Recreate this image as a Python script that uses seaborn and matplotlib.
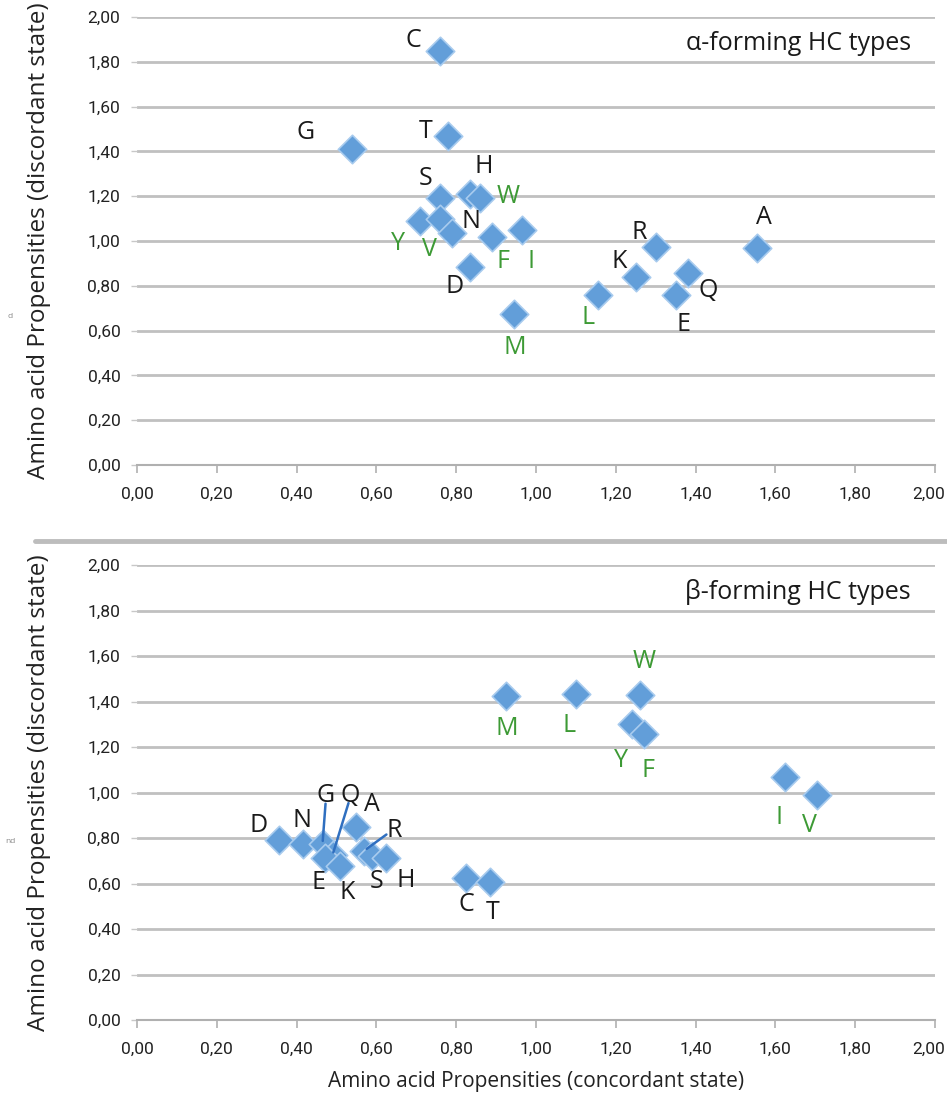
import matplotlib
matplotlib.use("Agg")
import matplotlib.pyplot as plt
import seaborn as sns
import pandas as pd
from matplotlib.lines import Line2D
from matplotlib.ticker import FuncFormatter, MultipleLocator
from matplotlib import font_manager

# ---------------- data ----------------
alpha_aa = ["C", "T", "G", "S", "H", "W", "Y", "V", "N", "F", "I", "D", "M",
            "L", "K", "R", "E", "Q", "A"]
alpha_conc = [0.76, 0.78, 0.54, 0.76, 0.835, 0.86, 0.71, 0.76, 0.79, 0.89, 0.965,
              0.835, 0.945, 1.155, 1.25, 1.30, 1.35, 1.38, 1.555]
alpha_disc = [1.85, 1.47, 1.41, 1.19, 1.21, 1.19, 1.09, 1.10, 1.035, 1.02, 1.05,
              0.885, 0.675, 0.76, 0.84, 0.975, 0.76, 0.855, 0.97]

beta_aa = ["D", "N", "G", "Q", "E", "K", "A", "R", "S", "H", "C", "T",
           "M", "L", "W", "Y", "F", "I", "V"]
beta_conc = [0.355, 0.415, 0.465, 0.49, 0.47, 0.51, 0.55, 0.57, 0.59, 0.625,
             0.825, 0.885, 0.925, 1.10, 1.26, 1.24, 1.27, 1.625, 1.705]
beta_disc = [0.79, 0.775, 0.775, 0.725, 0.71, 0.675, 0.85, 0.745, 0.72, 0.71,
             0.625, 0.605, 1.425, 1.435, 1.43, 1.30, 1.255, 1.07, 0.99]

hydrophobic = ["W", "Y", "V", "F", "I", "M", "L"]

x_label = "Amino acid Propensities (concordant state)"
y_label = "Amino acid Propensities (discordant state)"
alpha_title = "\u03b1-forming HC types"
beta_title = "\u03b2-forming HC types"
x_max = 2.0

# ---------------- layout (label offsets in pixels) ----------------
alpha_off = {"C": (-27, 10), "T": (-23, 4), "G": (-47, 17), "S": (-15, 20),
             "H": (14, 27), "W": (28, 2), "Y": (-22, -23), "V": (-11, -31),
             "N": (19, 12), "F": (11, -25), "I": (9, -32), "D": (-16, -20),
             "M": (1, -34), "L": (-10, -23), "K": (-17, 15), "R": (-17, 14),
             "E": (8, -30), "Q": (21, -17), "A": (6, 30)}
beta_off = {"D": (-20, 15), "N": (-1, 23), "G": (3, 48), "Q": (18, 60),
            "A": (15, 22), "R": (30, 20), "E": (-6, -24), "K": (7, -26),
            "S": (4, -25), "H": (19, -22), "C": (0, -27), "T": (3, -30),
            "M": (1, -33), "L": (-7, -32), "W": (4, 33), "Y": (-11, -36),
            "F": (4, -36), "I": (-6, -41), "V": (-8, -31)}
beta_leaders = {"G": (3, 40), "Q": (16, 52), "R": (22, 16)}

GREEN = "#3d9a35"
BLACK = "#1a1a1a"
GRID = "#c0c0c0"
FILL = "#629ed9"
EDGE = "#a8cbee"


def pick(fams):
    for f in fams:
        try:
            font_manager.findfont(f, fallback_to_default=False)
            return f
        except Exception:
            pass
    return "DejaVu Sans"


sns.set_theme(style="white")
LAB_FONT = pick(["Open Sans", "Noto Sans", "DejaVu Sans"])
TICK_FONT = pick(["Liberation Sans Narrow", "Roboto", "DejaVu Sans"])
plt.rcParams["font.family"] = [LAB_FONT, "DejaVu Sans"]

W, H = 947, 1101
fig = plt.figure(figsize=(W / 100, H / 100), dpi=100)
fig.patch.set_facecolor("white")


def px_ax(left, top, right, bottom):
    return fig.add_axes([left / W, 1 - bottom / H, (right - left) / W, (bottom - top) / H])


ax1 = px_ax(137, 17, 935, 465)
ax2 = px_ax(137, 565, 935, 1020)


def num(v):
    return f"{v:.2f}".replace(".", ",")


yfmt = FuncFormatter(lambda v, p: num(v))
# the last x label is drawn separately so it stays inside the canvas
xfmt = FuncFormatter(lambda v, p: "" if abs(v - x_max) < 1e-9 else num(v))

TICK_KW = dict(fontsize=12.5, color="#222222", family=[TICK_FONT, "DejaVu Sans"])


def style(ax):
    ax.set_xlim(0, x_max)
    ax.set_ylim(0, 2)
    ax.xaxis.set_major_locator(MultipleLocator(0.2))
    ax.yaxis.set_major_locator(MultipleLocator(0.2))
    ax.xaxis.set_major_formatter(xfmt)
    ax.yaxis.set_major_formatter(yfmt)
    ax.grid(axis="y", color=GRID, lw=2.0, zorder=0)
    ax.grid(axis="x", visible=False)
    ax.set_axisbelow(True)
    for s in ["top", "right", "left"]:
        ax.spines[s].set_visible(False)
    ax.spines["bottom"].set_color("#b0b0b0")
    ax.spines["bottom"].set_linewidth(1.5)
    ax.tick_params(axis="x", direction="out", length=6, width=1.2, color="#b0b0b0",
                   labelsize=12.5, pad=10, bottom=True)
    ax.tick_params(axis="y", direction="out", length=4, width=1.0, color="#c8c8c8",
                   labelsize=12.5, pad=8, left=True)
    for t in ax.get_xticklabels() + ax.get_yticklabels():
        t.set_fontfamily([TICK_FONT, "DejaVu Sans"])
        t.set_color("#222222")
    ax.annotate(num(x_max), xy=(x_max, 0), xycoords=("data", "axes fraction"),
                xytext=(-4.5, -16), textcoords="offset points", ha="center",
                va="top", annotation_clip=False, **TICK_KW)
    ax.set_facecolor("white")
    ax.set_ylabel(y_label, fontsize=17.5, color="#222222", labelpad=26)


def draw(ax, aa, xs, ys, offs, title, leaders=None):
    df = pd.DataFrame({"aa": aa, "conc": xs, "disc": ys})
    sns.scatterplot(data=df, x="conc", y="disc", marker="D", s=210, color=FILL,
                    edgecolor=EDGE, linewidth=1.2, ax=ax, zorder=3, clip_on=False)
    for a, xv, yv in zip(aa, xs, ys):
        dx, dy = offs[a]
        ax.annotate(a, (xv, yv), xytext=(dx, dy), textcoords="offset pixels",
                    ha="center", va="center", fontsize=18,
                    color=GREEN if a in hydrophobic else BLACK, zorder=4)
        if leaders and a in leaders:
            lx, ly = leaders[a]
            ax.annotate("", (xv, yv), xytext=(lx, ly), textcoords="offset pixels",
                        arrowprops=dict(arrowstyle="-", color="#2f6fc0", lw=1.8,
                                        shrinkA=0, shrinkB=2), zorder=5)
    ax.text(0.97, 0.94, title, transform=ax.transAxes, ha="right", va="center",
            fontsize=18, color=BLACK)
    ax.set_xlabel("")


style(ax1)
style(ax2)
draw(ax1, alpha_aa, alpha_conc, alpha_disc, alpha_off, alpha_title)
draw(ax2, beta_aa, beta_conc, beta_disc, beta_off, beta_title, beta_leaders)
ax2.set_xlabel(x_label, fontsize=15, color="#222222", labelpad=10)

# separator between panels
fig.add_artist(Line2D([35 / W, 1.0], [1 - 541 / H, 1 - 541 / H], color="#bdbdbd", lw=3.5))

# cropped remnants at far left
fig.text(8 / W, 1 - 318 / H, "d", fontsize=6, color="#888888")
fig.text(5 / W, 1 - 843 / H, "nd", fontsize=6, color="#888888")

fig.savefig("out.png", dpi=100, facecolor="white")
